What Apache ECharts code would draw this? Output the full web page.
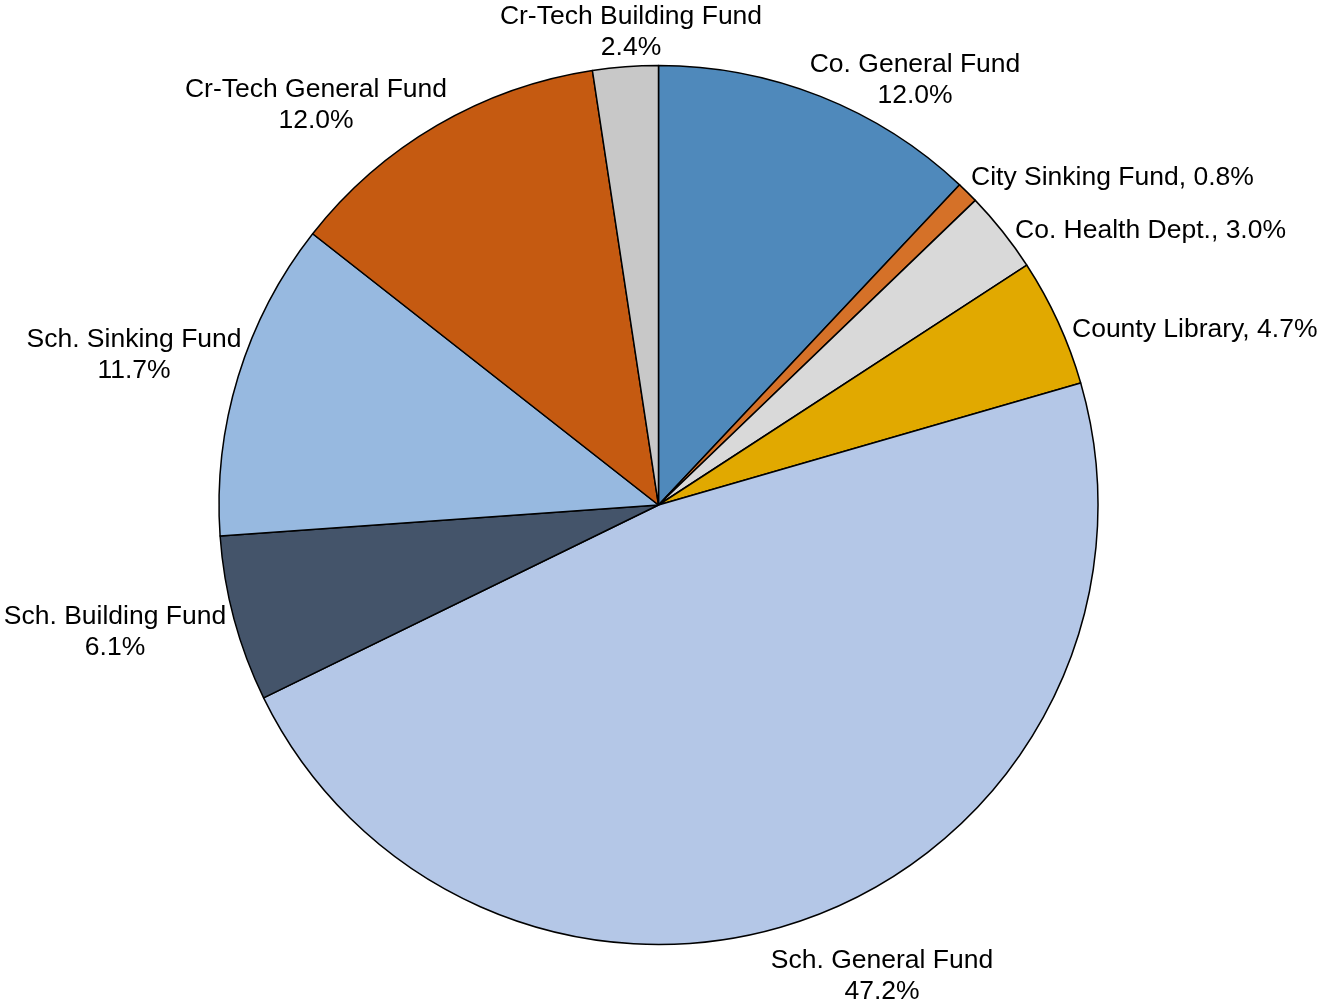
<!DOCTYPE html>
<html>
<head>
<meta charset="utf-8">
<script src="https://cdn.jsdelivr.net/npm/echarts@6/dist/echarts.min.js"></script>
<style>
  html, body { margin: 0; padding: 0; background: #fff; }
  #main { width: 1321px; height: 1004px; }
</style>
</head>
<body>
<div id="main"></div>
<script>
var names = ['Co. General Fund', 'City Sinking Fund', 'Co. Health Dept.', 'County Library',
    'Sch. General Fund', 'Sch. Building Fund', 'Sch. Sinking Fund',
    'Cr-Tech General Fund', 'Cr-Tech Building Fund'];
var shares = [12.0, 0.8, 3.0, 4.7, 47.2, 6.1, 11.7, 12.0, 2.4];
var colors = ['#4f89bb', '#d57128', '#d9d9d9', '#e1a900', '#b4c7e7',
    '#44546a', '#97b9e0', '#c55a11', '#c8c8c8'];
// single-line labels ("Name, x%") vs two-line labels
var oneLine = [false, true, true, true, false, false, false, false, false];

// where each label sits (Excel-style placement), kept apart from the data
var labelSpots = [
    { x: 915, y: 80, align: 'center' },
    { x: 971, y: 178, align: 'left' },
    { x: 1015, y: 231, align: 'left' },
    { x: 1072, y: 330, align: 'left' },
    { x: 882, y: 976, align: 'center' },
    { x: 115, y: 632, align: 'center' },
    { x: 134, y: 355, align: 'center' },
    { x: 316, y: 105, align: 'center' },
    { x: 631, y: 32, align: 'center' }
];

var pieData = names.map(function (n, i) {
    return {
        name: n,
        value: shares[i],
        itemStyle: { color: colors[i] }
    };
});

var chart = echarts.init(document.getElementById('main'));
var option = {
    backgroundColor: '#fff',
    animation: false,
    series: [{
        type: 'pie',
        center: [658.5, 505],
        radius: 439.5,
        startAngle: 90,
        clockwise: true,
        avoidLabelOverlap: false,
        itemStyle: { borderColor: '#000', borderWidth: 1.5 },
        label: {
            show: true,
            position: 'outside',
            fontFamily: 'Liberation Sans, Arial, sans-serif',
            fontSize: 26.5,
            lineHeight: 31,
            color: '#000',
            formatter: function (p) {
                var pct = shares[p.dataIndex].toFixed(1) + '%';
                return oneLine[p.dataIndex] ? p.name + ', ' + pct : p.name + '\n' + pct;
            }
        },
        labelLine: { show: false },
        labelLayout: function (params) {
            var s = labelSpots[params.dataIndex];
            return { x: s.x, y: s.y, align: s.align, verticalAlign: 'middle' };
        },
        emphasis: { disabled: true },
        data: pieData
    }]
};
chart.setOption(option);
</script>
</body>
</html>
